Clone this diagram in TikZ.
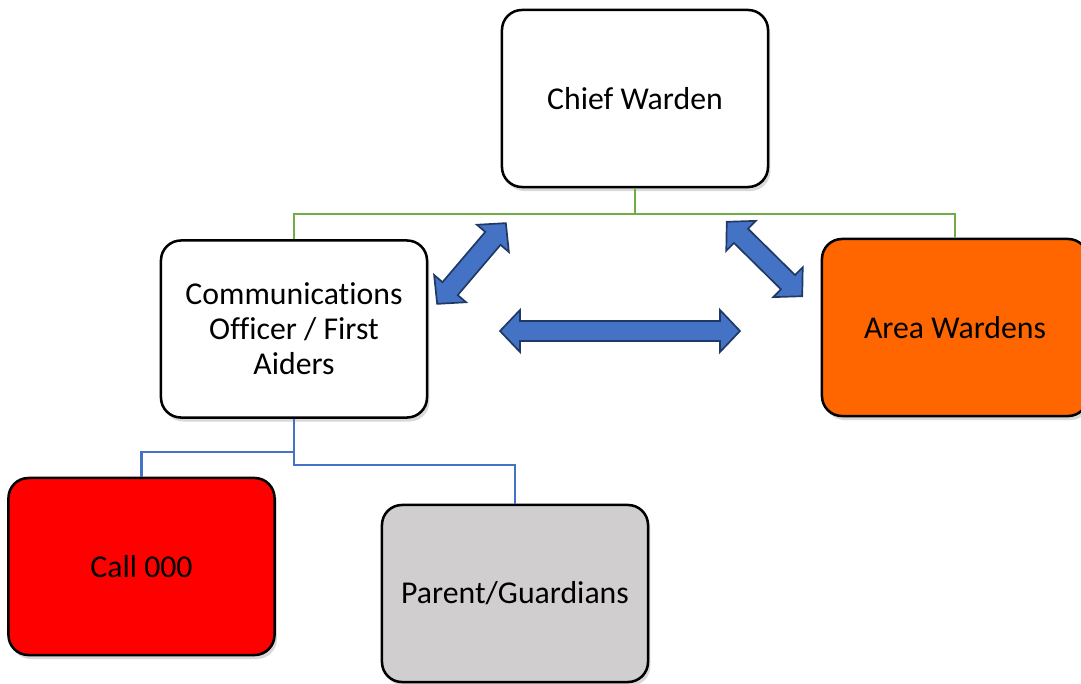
\documentclass[tikz,border=0pt]{standalone}
\usepackage{fontspec}
\setmainfont{Carlito}[Ligatures=NoCommon]
\usetikzlibrary{shadows}
\definecolor{linegreen}{HTML}{70AD47}
\definecolor{lineblue}{HTML}{4472C4}
\definecolor{arrowblue}{HTML}{4472C4}
\definecolor{arrowedge}{HTML}{1F3864}
\definecolor{callred}{HTML}{FF0000}
\definecolor{areaorange}{HTML}{FF6600}
\definecolor{parentgray}{HTML}{D0CECE}
\tikzset{
	box/.style={draw=black,fill=white,line width=1.8pt,rounded corners=0.5cm,
		minimum width=6.65cm,minimum height=4.425cm,align=center,
		drop shadow={shadow xshift=0.06cm,shadow yshift=-0.1cm,opacity=0.3},
		font=\fontsize{22.6}{24.9}\selectfont},
	greenline/.style={draw=linegreen,line width=1.6pt},
	blueline/.style={draw=lineblue,line width=1.6pt},
	blockarrow/.style={fill=arrowblue,draw=arrowedge,line width=1.2pt,line join=miter}
}
% double block arrow: centre, angle, half length
\newcommand\blockarrow[3]{\draw[blockarrow,shift={#1},rotate=#2]
	(-#3,0)--(-#3+20,21)--(-#3+20,10)--(#3-20,10)--(#3-20,21)--(#3,0)
	--(#3-20,-21)--(#3-20,-10)--(-#3+20,-10)--(-#3+20,-21)--cycle;}
\begin{document}
\begin{tikzpicture}[x=0.025cm,y=-0.025cm]
	\useasboundingbox (0,0) rectangle (1081,684);
	\clip (0,0) rectangle (1081,684);
	\node[box] (chief) at (635,98.5) {Chief Warden};
	\node[box] (comms) at (294,329) {Communications\\Officer / First\\Aiders};
	\node[box,fill=areaorange] (area) at (955,327.5) {Area Wardens};
	\node[box,fill=callred] (call) at (141.5,566.5) {Call 000};
	\node[box,fill=parentgray] (parent) at (515,593.5) {Parent/Guardians};
	\draw[greenline] (chief.south)--++(0,26) coordinate (gjoin) -| (comms.north);
	\draw[greenline] (gjoin) -| (area.north);
	\draw[blueline] (comms.south)--++(0,33) -| (call.north);
	\draw[blueline] (comms.south)--++(0,46) -| (parent.north);
	\blockarrow{(471.5,263.5)}{49.6}{53}
	\blockarrow{(764.5,259)}{-44.6}{53}
	\blockarrow{(620,331)}{0}{120}
\end{tikzpicture}
\end{document}
